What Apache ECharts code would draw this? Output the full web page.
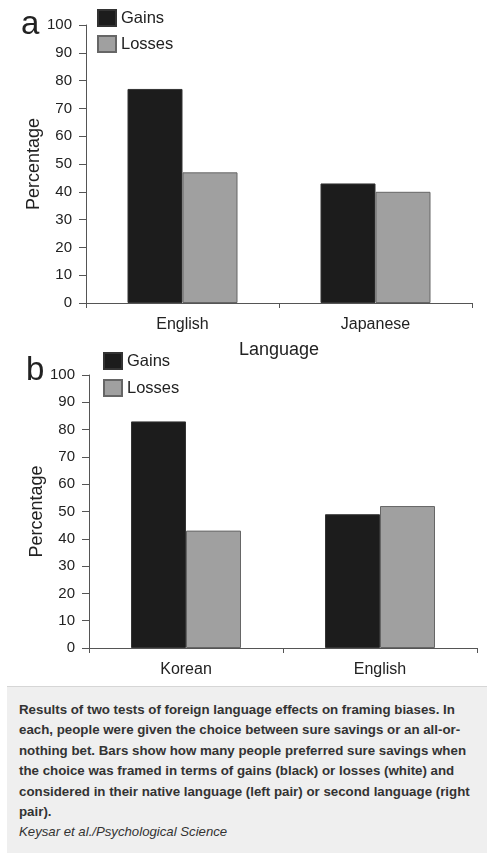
<!DOCTYPE html>
<html>
<head>
<meta charset="utf-8">
<script src="https://cdn.jsdelivr.net/npm/echarts@6/dist/echarts.min.js"></script>
<style>
html,body{margin:0;padding:0;background:#fff;}
#chart{position:absolute;left:0;top:0;width:498px;height:858px;}
#caption{position:absolute;left:7px;top:686px;width:480px;height:167px;box-sizing:border-box;
 background:#efefef;border-top:1px solid #d6d6d6;padding:13px 0 0 12px;
 font-family:"Liberation Sans",Arial,sans-serif;font-size:13.3px;line-height:20.4px;color:#333;}
#caption .b{font-weight:bold;white-space:nowrap;}
#caption .i{font-style:italic;white-space:nowrap;font-size:13.2px;}
</style>
</head>
<body>
<div id="chart"></div>
<div id="caption">
<div class="b">Results of two tests of foreign language effects on framing biases. In</div>
<div class="b">each, people were given the choice between sure savings or an all-or-</div>
<div class="b">nothing bet. Bars show how many people preferred sure savings when</div>
<div class="b">the choice was framed in terms of gains (black) or losses (white) and</div>
<div class="b">considered in their native language (left pair) or second language (right</div>
<div class="b">pair).</div>
<div class="i">Keysar et al./Psychological Science</div>
</div>
<script>
const categoriesA = ['English', 'Japanese'];
const gainsA = [77, 43];
const lossesA = [47, 40];
const categoriesB = ['Korean', 'English'];
const gainsB = [83, 49];
const lossesB = [43, 52];
const yTicks = [0, 10, 20, 30, 40, 50, 60, 70, 80, 90, 100];

const FONT = '"Liberation Sans", Arial, sans-serif';
const TXT = '#222';
const AX = '#555';

function yAxis(gridIndex) {
  return {
    type: 'value', gridIndex: gridIndex,
    min: yTicks[0], max: yTicks[yTicks.length - 1], interval: yTicks[1] - yTicks[0],
    name: 'Percentage', nameLocation: 'middle', nameRotate: 90, nameGap: 43,
    nameMoveOverlap: false,
    nameTextStyle: { fontSize: 18, color: TXT, fontFamily: FONT },
    axisLine: { show: true, lineStyle: { color: AX, width: 1 } },
    axisTick: { show: true, length: 7, lineStyle: { color: AX } },
    axisLabel: { fontSize: 15, color: TXT, fontFamily: FONT, margin: 14 },
    splitLine: { show: false }
  };
}
function xAxis(gridIndex, cats, withName) {
  const a = {
    type: 'category', gridIndex: gridIndex, data: cats,
    axisLine: { show: true, lineStyle: { color: AX, width: 1 } },
    axisTick: { show: true, length: 5, alignWithLabel: false, lineStyle: { color: AX } },
    axisLabel: { fontSize: 16, color: TXT, fontFamily: FONT, margin: 14 },
    splitLine: { show: false }
  };
  if (withName) {
    a.name = 'Language'; a.nameLocation = 'middle'; a.nameGap = 38;
    a.nameTextStyle = { fontSize: 18, color: TXT, fontFamily: FONT };
  }
  return a;
}
function bar(name, data, idx, color, border) {
  return {
    type: 'bar', name: name, data: data, xAxisIndex: idx, yAxisIndex: idx,
    barWidth: 55, barGap: '0%',
    itemStyle: { color: color, borderColor: border, borderWidth: 1 },
    emphasis: { disabled: true }
  };
}
function legend(left, top, gap) {
  return {
    orient: 'vertical', left: left, top: top, itemWidth: 18, itemHeight: 16, itemGap: gap,
    icon: 'rect', data: ['Gains', 'Losses'],
    textStyle: { fontSize: 16.5, color: TXT, fontFamily: FONT },
    selectedMode: false
  };
}

const chart = echarts.init(document.getElementById('chart'), null, { renderer: 'canvas' });
chart.setOption({
  animation: false,
  backgroundColor: '#fff',
  title: [
    { text: 'a', left: 16, top: 3, textStyle: { fontSize: 33, fontWeight: 'normal', color: TXT, fontFamily: FONT } },
    { text: 'b', left: 21, top: 349, textStyle: { fontSize: 33, fontWeight: 'normal', color: TXT, fontFamily: FONT } }
  ],
  legend: [legend(92, 4, 8), legend(98, 347, 9)],
  grid: [
    { left: 86, top: 25, width: 386, height: 278 },
    { left: 89, top: 375, width: 388, height: 273 }
  ],
  xAxis: [xAxis(0, categoriesA, true), xAxis(1, categoriesB, false)],
  yAxis: [yAxis(0), yAxis(1)],
  series: [
    bar('Gains', gainsA, 0, '#1c1c1c', '#333'),
    bar('Losses', lossesA, 0, '#a0a0a0', '#666'),
    bar('Gains', gainsB, 1, '#1c1c1c', '#333'),
    bar('Losses', lossesB, 1, '#a0a0a0', '#666')
  ]
});
</script>
</body>
</html>
